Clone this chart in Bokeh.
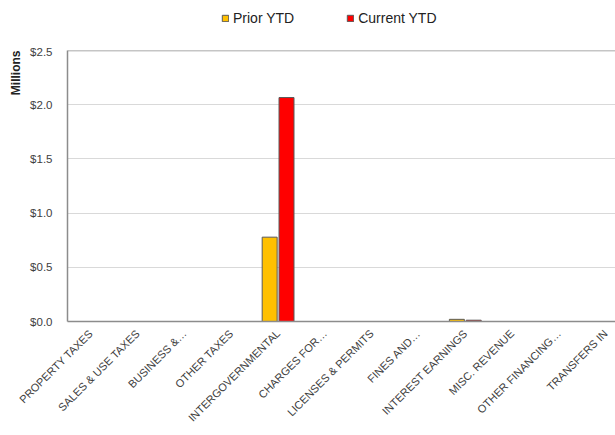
import math
from bokeh.plotting import figure
from bokeh.layouts import column
from bokeh.models import (ColumnDataSource, Legend, LegendItem, Title, Span,
                          NumeralTickFormatter, FixedTicker, Range1d)
from bokeh.embed import file_html
from bokeh.resources import INLINE

# Revenue by category, in millions of dollars
categories = ["PROPERTY TAXES", "SALES & USE TAXES", "BUSINESS &\u2026", "OTHER TAXES",
              "INTERGOVERNMENTAL", "CHARGES FOR\u2026", "LICENSES & PERMITS",
              "FINES AND\u2026", "INTEREST EARNINGS", "MISC. REVENUE",
              "OTHER FINANCING\u2026", "TRANSFERS IN"]
prior_ytd = [0.0, 0.0, 0.0, 0.0, 0.778, 0.0, 0.0, 0.0, 0.020, 0.0, 0.0, 0.0]
current_ytd = [0.0, 0.0, 0.0, 0.0, 2.066, 0.0, 0.0, 0.0, 0.012, 0.0, 0.0, 0.0]
series_names = ["Prior YTD", "Current YTD"]
y_ticks = [0.0, 0.5, 1.0, 1.5, 2.0, 2.5]

centers = [i + 0.5 for i in range(len(categories))]
source = ColumnDataSource(data=dict(
    x_prior=[c - 0.18 for c in centers],
    x_current=[c + 0.18 for c in centers],
    prior=prior_ytd,
    current=current_ytd,
))

FONT = "Liberation Sans"
TEXT = "#404040"
AXIS = "#8c8c8c"
PRIOR_COLOR = "#FFC000"
CURRENT_COLOR = "#FF0000"
EDGE = "#595959"

# ---- main chart ----
p = figure(width=615, height=390, output_backend="svg", toolbar_location=None,
           x_range=Range1d(0, 11.71), y_range=Range1d(0, 2.5),
           min_border_left=67, min_border_right=0, min_border_top=5,
           min_border_bottom=114)
p.outline_line_color = None

p.vbar(x="x_prior", top="prior", width=0.32, source=source,
       fill_color=PRIOR_COLOR, line_color=EDGE, line_width=1)
p.vbar(x="x_current", top="current", width=0.32, source=source,
       fill_color=CURRENT_COLOR, line_color=EDGE, line_width=1)

# top border of the plot area
p.add_layout(Span(location=2.5, dimension="width", line_color=AXIS, line_width=1.5))

# value axis
p.yaxis.ticker = FixedTicker(ticks=y_ticks)
p.yaxis.formatter = NumeralTickFormatter(format="$0.0")
p.yaxis.major_tick_line_color = None
p.yaxis.minor_tick_line_color = None
p.yaxis.axis_line_color = AXIS
p.yaxis.axis_line_width = 1.5
p.yaxis.major_label_text_font = FONT
p.yaxis.major_label_text_font_size = "11.5px"
p.yaxis.major_label_text_color = TEXT
p.yaxis.major_label_standoff = 9

# category axis
p.xaxis.ticker = FixedTicker(ticks=centers)
p.xaxis.major_label_overrides = {c: name for c, name in zip(centers, categories)}
p.xaxis.major_label_orientation = math.pi / 4
p.xaxis.major_tick_line_color = None
p.xaxis.minor_tick_line_color = None
p.xaxis.axis_line_color = AXIS
p.xaxis.axis_line_width = 1.5
p.xaxis.major_label_text_font = FONT
p.xaxis.major_label_text_font_size = "11px"
p.xaxis.major_label_text_color = TEXT
p.xaxis.major_label_standoff = 4

p.xgrid.grid_line_color = None
p.ygrid.grid_line_color = "#d9d9d9"

# vertical unit caption near the top of the value axis
p.add_layout(Title(text="Millions", align="right", text_font=FONT,
                   text_font_size="12px", text_font_style="bold",
                   text_color="#222222"), "left")

# ---- legend strip above the chart ----
lg = figure(width=615, height=45, output_backend="svg", toolbar_location=None,
            x_range=Range1d(-20, -19), y_range=Range1d(0, 1),
            min_border=0, x_axis_location=None, y_axis_location=None)
lg.outline_line_color = None
lg.xgrid.grid_line_color = None
lg.ygrid.grid_line_color = None
lr_prior = lg.vbar(x="x_prior", top="prior", width=0.32, source=source,
                   fill_color=PRIOR_COLOR, line_color=EDGE, line_width=1)
lr_current = lg.vbar(x="x_current", top="current", width=0.32, source=source,
                     fill_color=CURRENT_COLOR, line_color=EDGE, line_width=1)

# the strip's frame lines up with the chart's frame, which starts 67px in
legend = Legend(items=[LegendItem(label=series_names[0], renderers=[lr_prior]),
                       LegendItem(label=series_names[1], renderers=[lr_current])],
                orientation="horizontal", location=(154, 19),
                label_text_font=FONT, label_text_font_size="14px",
                label_text_color="#222222", glyph_width=8, glyph_height=8,
                label_standoff=4, spacing=52, padding=0, margin=0,
                label_height=14, border_line_color=None, background_fill_alpha=0)
lg.add_layout(legend, "center")

open("out.html", "w").write(file_html(column(lg, p, spacing=0), INLINE))
